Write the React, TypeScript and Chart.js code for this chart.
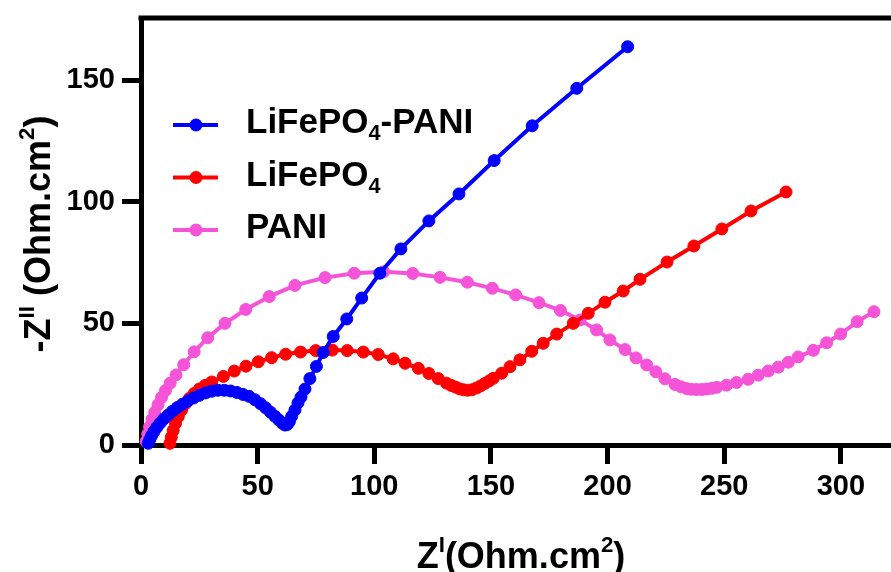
import React, { useEffect, useRef } from 'react';
import { Chart, registerables } from 'chart.js';

Chart.register(...registerables);

// ---------- data ----------
const seriesNames = ['LiFePO4-PANI', 'LiFePO4', 'PANI'];
const seriesColors = ['#0000FF', '#FF0000', '#F553D8'];

const lfpPani: [number, number][] = [
  [3.1, 0.7], [3.8, 2.3], [4.6, 3.9], [5.6, 5.6], [6.8, 7.3], [8.2, 9.0], [9.8, 10.7], [11.6, 12.3],
  [13.5, 13.9], [15.6, 15.4], [17.8, 16.8], [20.1, 18.1], [22.5, 19.3], [25.0, 20.4], [27.6, 21.4],
  [30.3, 22.1], [33.0, 22.5], [35.7, 22.5], [38.4, 22.2], [41.1, 21.6], [43.7, 20.8], [46.3, 20.0],
  [48.8, 18.6], [51.2, 17.0], [53.4, 15.3], [55.5, 13.5], [57.4, 11.8], [59.1, 10.3], [60.5, 9.0],
  [61.7, 8.2], [62.7, 8.4], [63.6, 9.6], [64.6, 11.8], [66.0, 14.4], [67.3, 17.3], [68.6, 19.7],
  [70.3, 23.0], [72.4, 27.3], [75.2, 32.3], [78.1, 38.0], [82.4, 44.6], [88.2, 51.8], [94.6, 60.4],
  [102.4, 70.6], [111.4, 80.6], [123.4, 92.1], [136.3, 103.2], [151.4, 116.9], [167.7, 131.2],
  [186.8, 146.6], [208.6, 163.7],
];

const lfp: [number, number][] = [
  [12.4, 0.7], [13.0, 3.2], [13.8, 6.0], [14.8, 8.9], [16.0, 11.7], [17.4, 14.4], [19.0, 16.9],
  [20.8, 19.2], [22.8, 21.2], [25.0, 23.0], [27.5, 24.5], [30.3, 25.9], [35.3, 28.2], [40.0, 30.4],
  [45.0, 32.4], [50.3, 34.2], [56.0, 35.9], [62.0, 37.3], [68.4, 38.2], [74.9, 38.8], [82.0, 39.0],
  [88.4, 38.8], [95.3, 38.2], [101.7, 37.2], [108.1, 35.4], [113.2, 33.6], [118.9, 31.5], [123.4, 29.4],
  [127.4, 27.3], [131.0, 25.4], [133.0, 24.5], [134.8, 23.8], [136.5, 23.1], [138.2, 22.7], [140.0, 22.5],
  [141.8, 22.7], [143.8, 23.4], [145.6, 24.3], [147.4, 25.3], [149.2, 26.3], [151.0, 27.4], [154.6, 29.5],
  [158.2, 32.2], [162.4, 35.0], [167.5, 38.5], [172.4, 41.8], [178.2, 45.6], [185.3, 50.0], [191.7, 54.1],
  [198.9, 58.7], [206.7, 63.3], [213.9, 68.1], [225.5, 75.2], [237.0, 81.8], [249.0, 88.8], [261.5, 96.2],
  [276.5, 104.0],
];

const pani: [number, number][] = [
  [2.2, 1.5], [2.9, 4.5], [3.7, 7.5], [4.7, 10.5], [5.9, 13.5], [7.3, 16.5], [8.8, 19.5], [10.5, 22.4],
  [12.5, 25.4], [15.0, 28.8], [18.3, 33.0], [22.8, 38.3], [28.6, 44.1], [36.0, 50.0], [44.9, 55.7],
  [55.0, 61.0], [66.0, 65.6], [78.9, 68.8], [91.4, 70.6], [104.0, 71.2], [116.5, 70.5], [128.2, 68.9],
  [139.9, 66.9], [150.6, 64.4], [160.6, 61.7], [170.6, 58.5], [179.8, 55.3], [188.2, 51.4], [195.3, 47.3],
  [201.0, 43.2], [207.5, 39.2], [212.2, 35.8], [216.8, 32.9], [220.7, 30.1], [224.6, 27.2], [228.9, 24.9],
  [231.5, 23.9], [233.9, 23.2], [236.0, 22.9], [238.2, 22.8], [240.4, 22.8], [242.5, 23.0], [244.7, 23.3],
  [246.8, 23.7], [251.0, 24.6], [255.3, 25.7], [260.3, 27.0], [264.6, 28.7], [268.9, 30.4], [273.2, 32.0],
  [277.5, 34.0], [281.7, 36.2], [288.2, 38.9], [293.9, 42.0], [299.9, 45.6], [307.0, 50.7], [314.2, 54.8],
];

const seriesData = [lfpPani, lfp, pani];

const xTicks = [0, 50, 100, 150, 200, 250, 300];
const yTicks = [0, 50, 100, 150];
const xRange = [0, 321.5];
const yRange = [0, 175.5];

// title parts: [text, kind] kind: n normal, sup superscript, sub subscript
const yTitleParts: [string, string][] = [['-Z', 'n'], ['II', 'sup'], [' (Ohm.cm', 'n'], ['2', 'sup'], [')', 'n']];
const xTitleParts: [string, string][] = [['Z', 'n'], ['I', 'sup'], ['(Ohm.cm', 'n'], ['2', 'sup'], [')', 'n']];

// ---------- drawing helpers ----------
const FONT = '"Liberation Sans", Arial, Helvetica, sans-serif';

function partsWidth(ctx: CanvasRenderingContext2D, parts: [string, string][], size: number) {
  let w = 0;
  for (const [t, k] of parts) {
    const s = k === 'n' ? size : size * 0.62;
    ctx.font = `bold ${s}px ${FONT}`;
    w += ctx.measureText(t).width;
  }
  return w;
}

function drawParts(ctx: CanvasRenderingContext2D, parts: [string, string][], x: number, y: number, size: number) {
  let cx = x;
  ctx.textBaseline = 'alphabetic';
  ctx.textAlign = 'left';
  for (const [t, k] of parts) {
    const s = k === 'n' ? size : size * 0.62;
    ctx.font = `bold ${s}px ${FONT}`;
    const dy = k === 'sup' ? -size * 0.45 : k === 'sub' ? size * 0.2 : 0;
    ctx.fillText(t, cx, y + dy);
    cx += ctx.measureText(t).width;
  }
}

function labelParts(name: string): [string, string][] {
  const out: [string, string][] = [];
  name.split(/(\d+)/).forEach((p) => {
    if (!p) return;
    out.push([p, /^\d+$/.test(p) ? 'sub' : 'n']);
  });
  return out;
}

const decorPlugin = {
  id: 'decor',
  afterDraw(chart: any) {
    const ctx: CanvasRenderingContext2D = chart.ctx;
    const { left, right, top } = chart.chartArea;
    ctx.save();
    ctx.fillStyle = '#000';
    // top frame line
    ctx.fillRect(left - 2.5, top - 2.5, right - left + 2.5, 5);

    // x title
    const xs = 36;
    const xw = partsWidth(ctx, xTitleParts, xs);
    ctx.fillStyle = '#000';
    drawParts(ctx, xTitleParts, 521 - xw / 2, 568, xs);

    // y title
    const ys = 36;
    const yw = partsWidth(ctx, yTitleParts, ys);
    ctx.save();
    ctx.translate(50, 234);
    ctx.rotate(-Math.PI / 2);
    drawParts(ctx, yTitleParts, -yw / 2, 0, ys);
    ctx.restore();

    // legend
    for (let i = 0; i < seriesNames.length; i++) {
      const ly = 125 + i * 52.5;
      ctx.strokeStyle = seriesColors[i];
      ctx.lineWidth = 4;
      ctx.beginPath();
      ctx.moveTo(173, ly);
      ctx.lineTo(218, ly);
      ctx.stroke();
      ctx.fillStyle = seriesColors[i];
      ctx.beginPath();
      ctx.arc(196, ly, 6.5, 0, Math.PI * 2);
      ctx.fill();
      ctx.fillStyle = '#000';
      drawParts(ctx, labelParts(seriesNames[i]), 246, ly + 8, 35);
    }
    ctx.restore();
  },
};

export default function App() {
  const ref = useRef<HTMLCanvasElement>(null);

  useEffect(() => {
    if (!ref.current) return;
    const tickFont = { family: FONT, size: 29, weight: 'bold' as const };
    const chart = new Chart(ref.current, {
      type: 'line',
      data: {
        datasets: seriesData.map((d, i) => ({
          label: seriesNames[i],
          data: d.map(([x, y]) => ({ x, y })),
          borderColor: seriesColors[i],
          backgroundColor: seriesColors[i],
          pointBackgroundColor: seriesColors[i],
          pointBorderColor: seriesColors[i],
          borderWidth: 4,
          pointRadius: 6,
          pointBorderWidth: 1,
          tension: 0,
          clip: false as any,
        })),
      },
      options: {
        animation: false,
        responsive: false,
        maintainAspectRatio: false,
        layout: { autoPadding: false, padding: { left: 0, right: 0, top: 18, bottom: 0 } },
        plugins: { legend: { display: false }, tooltip: { enabled: false } },
        scales: {
          x: {
            type: 'linear',
            min: xRange[0],
            max: xRange[1],
            afterBuildTicks: (s: any) => {
              s.ticks = xTicks.map((v) => ({ value: v }));
            },
            afterFit: (s: any) => {
              s.height = 127;
              s.paddingLeft = 0;
              s.paddingRight = 0;
            },
            grid: { drawOnChartArea: false, drawTicks: true, tickLength: 19, tickWidth: 5, tickColor: '#000' },
            border: { display: true, color: '#000', width: 5 },
            ticks: { color: '#000', font: tickFont, padding: 6, maxRotation: 0, autoSkip: false },
          },
          y: {
            type: 'linear',
            min: yRange[0],
            max: yRange[1],
            afterBuildTicks: (s: any) => {
              s.ticks = yTicks.map((v) => ({ value: v }));
            },
            afterFit: (s: any) => {
              s.width = 141;
              s.paddingTop = 0;
              s.paddingBottom = 0;
            },
            grid: { drawOnChartArea: false, drawTicks: true, tickLength: 19, tickWidth: 5, tickColor: '#000' },
            border: { display: true, color: '#000', width: 5 },
            ticks: { color: '#000', font: tickFont, padding: 7, autoSkip: false },
          },
        },
      },
      plugins: [decorPlugin],
    });
    return () => chart.destroy();
  }, []);

  return (
    <div style={{ position: 'absolute', left: 0, top: 0, width: 891, height: 572, background: '#fff' }}>
      <canvas ref={ref} width={891} height={572} style={{ display: 'block' }} />
    </div>
  );
}
